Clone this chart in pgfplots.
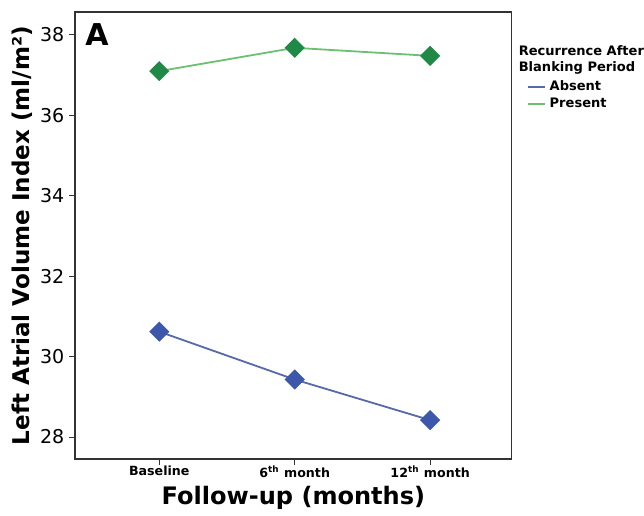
\documentclass[border=0pt]{standalone}
\usepackage{fontspec}
\setmainfont{DejaVu Sans}
\usepackage{pgfplots}
\pgfplotsset{compat=1.18}
\definecolor{absentline}{HTML}{5868A8}
\definecolor{absentmark}{HTML}{3D58AA}
\definecolor{presentline}{HTML}{6CC072}
\definecolor{presentmark}{HTML}{1E8A45}
\definecolor{axgray}{HTML}{333333}
\begin{document}
\begin{tikzpicture}
\begin{axis}[
  width=217.5pt, height=223pt, scale only axis,
  xmin=-0.62, xmax=2.6, ymin=27.45, ymax=38.57,
  xtick={0,1,2},
  xticklabels={Baseline, 6\textsuperscript{th} month, 12\textsuperscript{th} month},
  ytick={28,30,32,34,36,38},
  x tick label style={font=\bfseries\fontsize{6.3}{7}\selectfont, yshift=3pt},
  y tick label style={font=\fontsize{9.5}{10}\selectfont, xshift=1pt},
  /pgf/number format/assume math mode=true,
  tick align=outside, xtick pos=bottom, ytick pos=left,
  major tick length=3pt,
  axis line style={axgray, line width=0.9pt},
  tick style={axgray, line width=0.5pt},
  xlabel={Follow-up (months)},
  ylabel={Left Atrial Volume Index (ml/m²)},
  xlabel style={font=\bfseries\fontsize{12}{14}\selectfont, yshift=3pt},
  ylabel style={font=\bfseries\fontsize{11.5}{13}\selectfont, yshift=-3pt},
  legend style={at={(1.02,0.865)}, anchor=north west, draw=none, fill=none,
    font=\bfseries\fontsize{6.5}{7.5}\selectfont, row sep=-2pt,
    legend cell align=left},
  legend image code/.code={\draw[#1, line width=1pt] (0cm,0cm) -- (0.3cm,0cm);},
  clip=false,
]
\addplot[absentline, line width=0.9pt, mark=square*, mark size=3.1pt,
  mark options={fill=absentmark, draw=absentmark, rotate=45}]
  coordinates {(0,30.62) (1,29.43) (2,28.42)};
\addlegendentry{Absent}
\addplot[presentline, line width=0.9pt, mark=square*, mark size=3.1pt,
  mark options={fill=presentmark, draw=presentmark, rotate=45}]
  coordinates {(0,37.10) (1,37.68) (2,37.48)};
\addlegendentry{Present}
\node[anchor=north west, font=\bfseries\fontsize{15}{16}\selectfont, inner sep=0pt]
  at (rel axis cs:0.022,0.975) {A};
\node[anchor=north west, align=left, inner sep=0pt,
  font=\bfseries\fontsize{6.5}{8}\selectfont]
  at (rel axis cs:1.016,0.925) {Recurrence After\\Blanking Period};
\path (rel axis cs:0,1) -- ++(0pt,6pt);
\end{axis}
\path (current bounding box.south west) -- ++(-2.5pt,0pt);
\end{tikzpicture}
\end{document}
